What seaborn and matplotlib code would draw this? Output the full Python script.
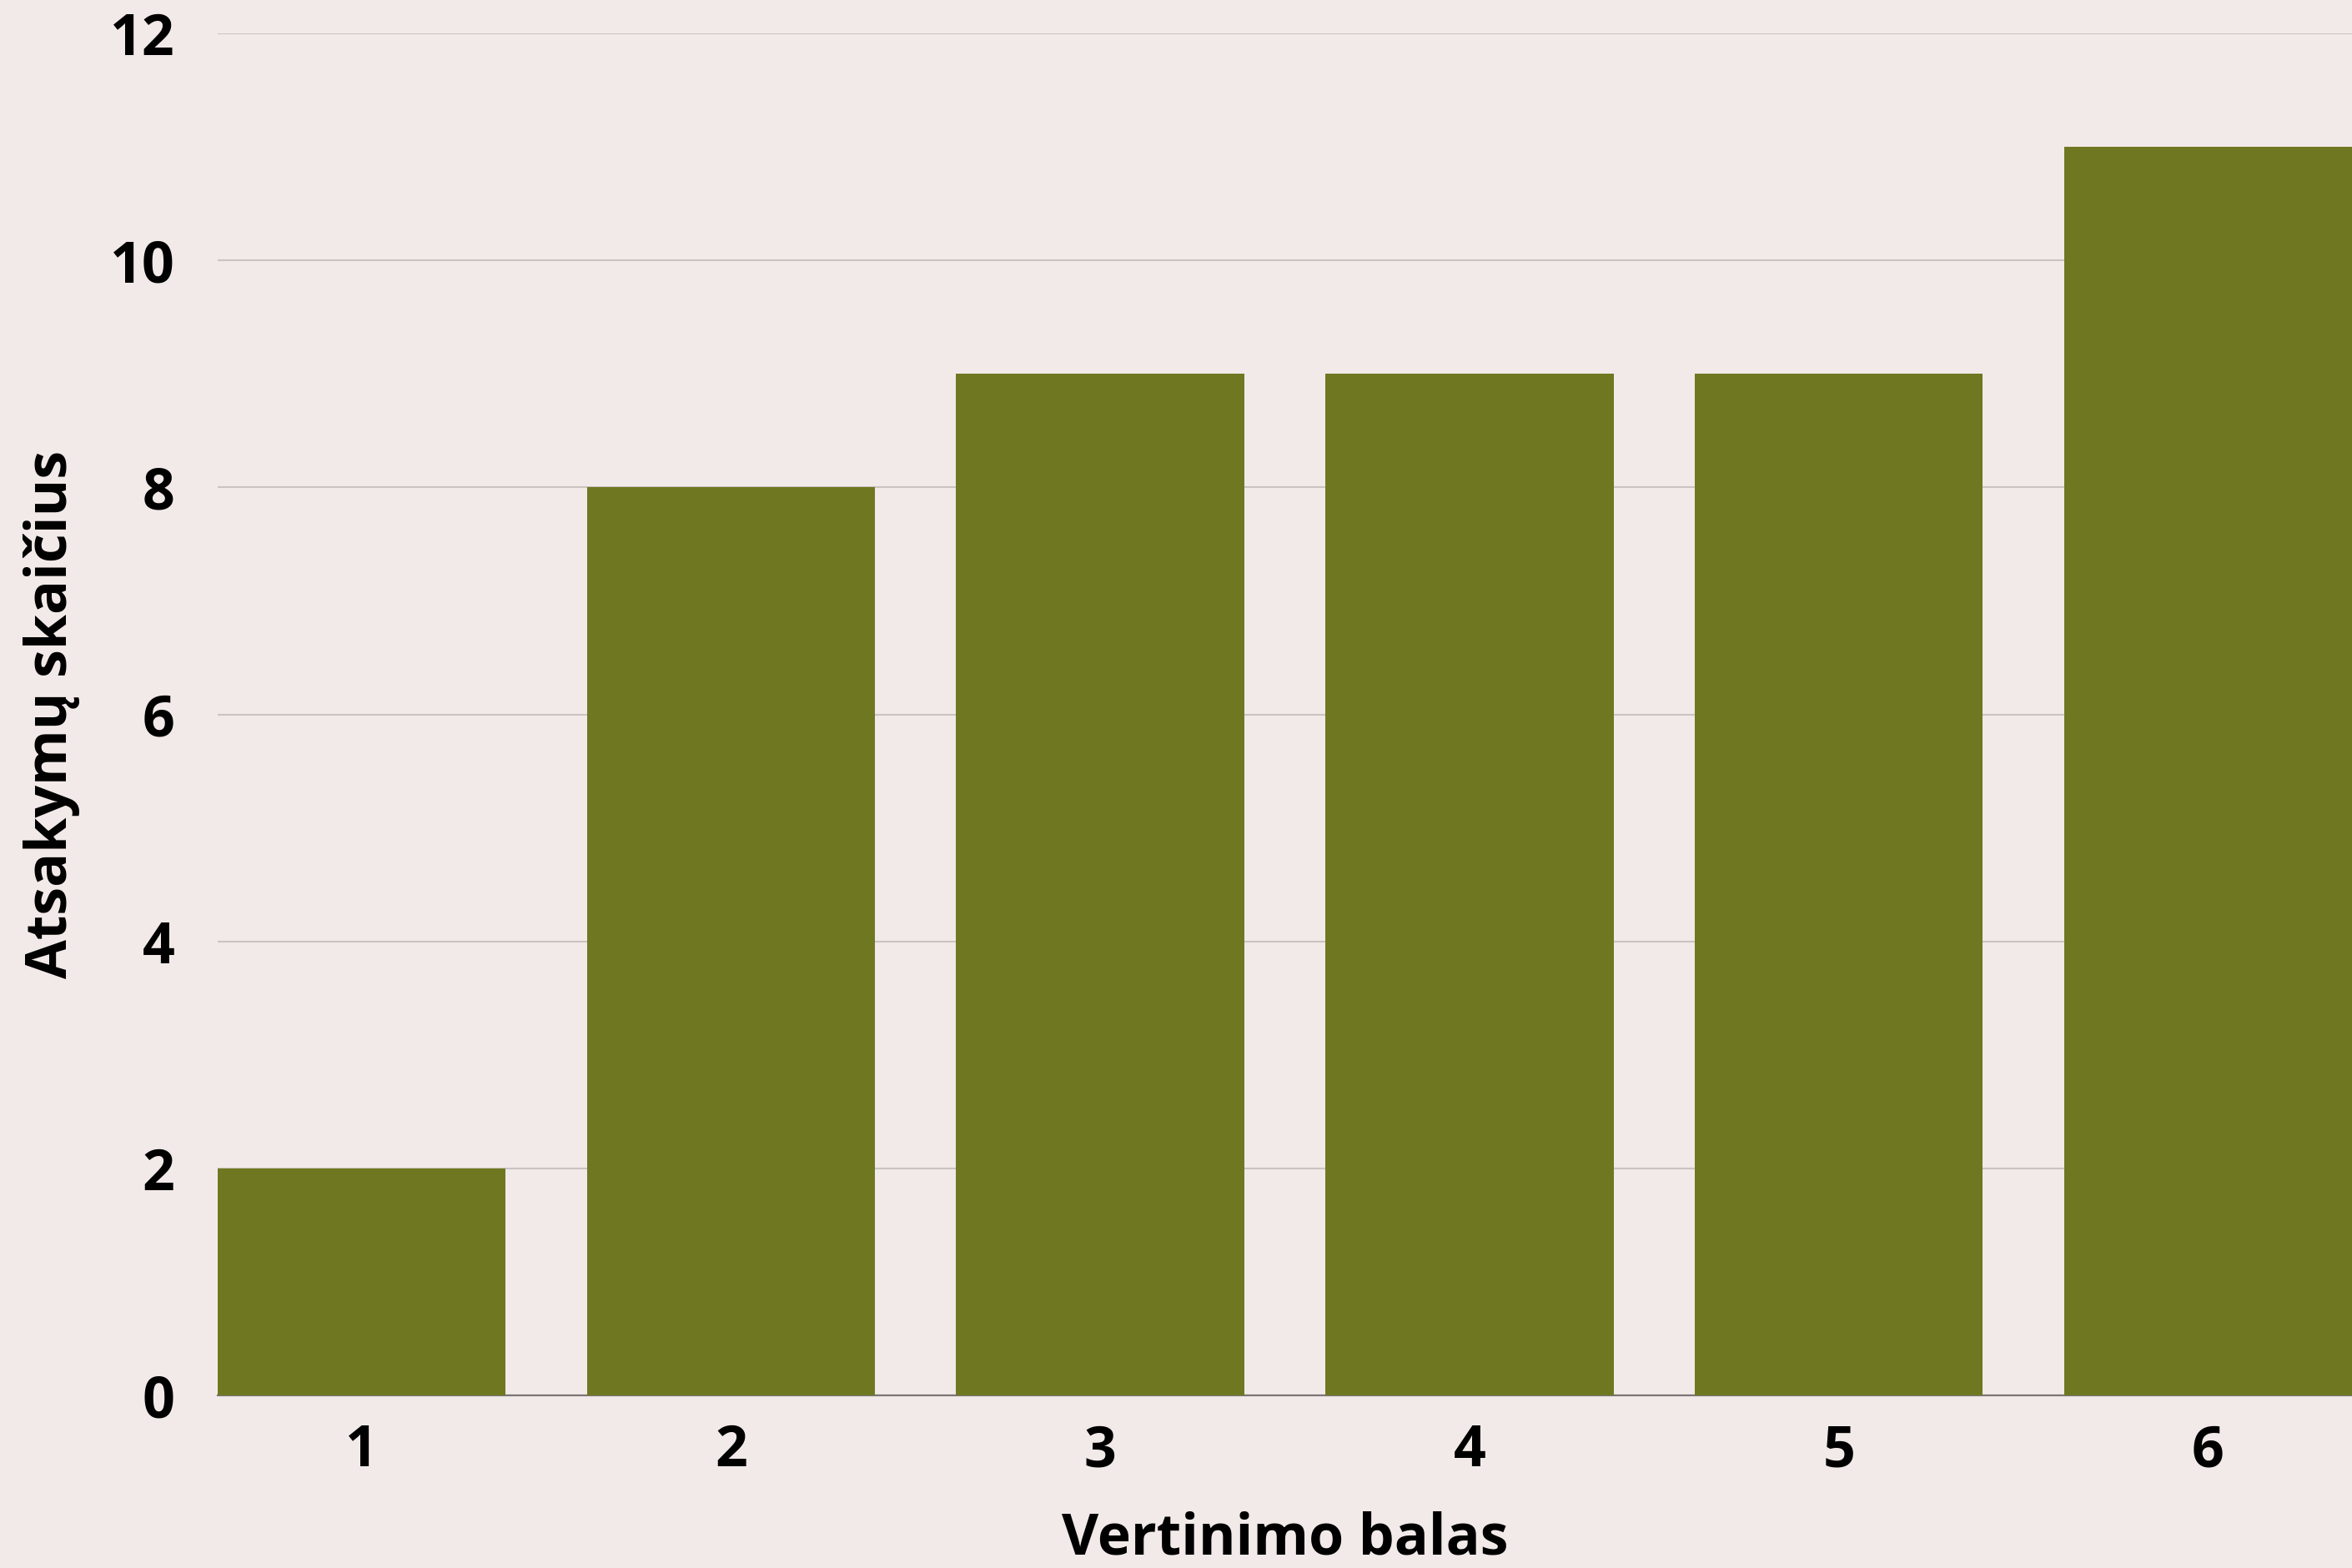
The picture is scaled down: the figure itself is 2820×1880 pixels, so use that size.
import matplotlib
matplotlib.use("Agg")
import matplotlib.pyplot as plt
import seaborn as sns
import pandas as pd

# Survey results: how many answers each score received
scores = ["1", "2", "3", "4", "5", "6"]
counts = [2, 8, 9, 9, 9, 11]
y_ticks = [0, 2, 4, 6, 8, 10, 12]

bg = "#f2eae8"
bar_color = "#6f7821"
fs = 49

sns.set_theme(style="white")
plt.rcParams["font.family"] = ["Open Sans", "DejaVu Sans"]
plt.rcParams["font.weight"] = "bold"

df = pd.DataFrame({"score": scores, "count": counts})

fig = plt.figure(figsize=(28.2, 18.8), dpi=100, facecolor=bg)
ax = fig.add_axes([261 / 2820, 1 - 1673 / 1880, 1 - 261 / 2820, (1673 - 40) / 1880])
ax.set_facecolor(bg)

sns.barplot(data=df, x="score", y="count", color=bar_color, saturation=1,
            width=0.78, ax=ax, zorder=3, edgecolor="none", linewidth=0)

ax.set_xlim(-0.39, 5.39)
ax.set_ylim(0, 12)
ax.set_yticks(y_ticks)
ax.set_yticklabels([str(t) for t in y_ticks])

ax.yaxis.grid(True, color="#c9c4c2", linewidth=1.5, zorder=0)
ax.set_axisbelow(True)
for side in ["top", "right", "left"]:
    ax.spines[side].set_visible(False)
ax.spines["bottom"].set_color("#7a7676")
ax.spines["bottom"].set_linewidth(1.6)
ax.spines["bottom"].set_zorder(2)

ax.tick_params(axis="both", length=0, labelsize=fs, colors="black")
ax.tick_params(axis="x", pad=24)
ax.tick_params(axis="y", pad=37)
for lbl in ax.get_xticklabels() + ax.get_yticklabels():
    lbl.set_fontweight("bold")

ax.set_xlabel("Vertinimo balas", fontsize=fs, fontweight="bold",
              color="black", labelpad=27)
ax.set_ylabel("Atsakymų skaičius", fontsize=fs, fontweight="bold",
              color="black", labelpad=26)

fig.savefig("out.png", dpi=100, facecolor=bg)
